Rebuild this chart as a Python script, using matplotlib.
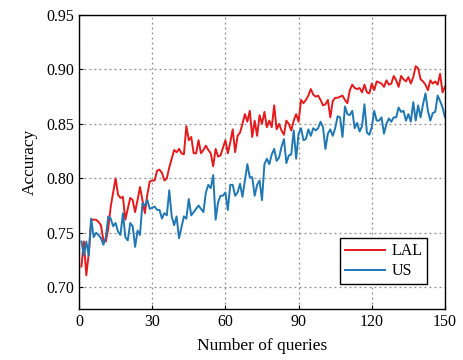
import numpy as np
import matplotlib
matplotlib.use("Agg")
import matplotlib.pyplot as plt

queries = np.arange(1, 151)

lal_acc = [
    0.719, 0.742, 0.711, 0.731, 0.762, 0.762, 0.762, 0.760, 0.757, 0.743,
    0.742, 0.754, 0.774, 0.787, 0.800, 0.785, 0.782, 0.783, 0.762, 0.772,
    0.782, 0.780, 0.769, 0.780, 0.792, 0.780, 0.768, 0.785, 0.797, 0.798,
    0.798, 0.807, 0.808, 0.805, 0.798, 0.800, 0.810, 0.818, 0.826, 0.824,
    0.827, 0.823, 0.822, 0.848, 0.835, 0.838, 0.823, 0.823, 0.835, 0.823,
    0.826, 0.830, 0.826, 0.823, 0.811, 0.827, 0.820, 0.821, 0.828, 0.835,
    0.823, 0.833, 0.845, 0.824, 0.839, 0.842, 0.850, 0.859, 0.852, 0.862,
    0.838, 0.853, 0.839, 0.858, 0.850, 0.861, 0.847, 0.853, 0.847, 0.867,
    0.845, 0.850, 0.844, 0.840, 0.853, 0.850, 0.844, 0.853, 0.859, 0.852,
    0.872, 0.869, 0.872, 0.876, 0.882, 0.877, 0.875, 0.876, 0.872, 0.867,
    0.868, 0.872, 0.856, 0.871, 0.874, 0.874, 0.875, 0.876, 0.872, 0.869,
    0.881, 0.886, 0.883, 0.882, 0.883, 0.879, 0.886, 0.879, 0.878, 0.887,
    0.881, 0.889, 0.888, 0.887, 0.884, 0.890, 0.886, 0.887, 0.894, 0.890,
    0.884, 0.894, 0.891, 0.889, 0.893, 0.887, 0.893, 0.903, 0.901, 0.891,
    0.889, 0.886, 0.881, 0.890, 0.887, 0.889, 0.886, 0.896, 0.879, 0.884,
]

us_acc = [
    0.742, 0.729, 0.742, 0.729, 0.763, 0.746, 0.750, 0.748, 0.745, 0.739,
    0.746, 0.765, 0.763, 0.756, 0.759, 0.751, 0.748, 0.768, 0.746, 0.743,
    0.759, 0.756, 0.737, 0.752, 0.748, 0.777, 0.775, 0.780, 0.772, 0.773,
    0.774, 0.771, 0.771, 0.763, 0.768, 0.766, 0.789, 0.765, 0.757, 0.765,
    0.745, 0.755, 0.765, 0.763, 0.781, 0.766, 0.769, 0.772, 0.775, 0.772,
    0.769, 0.787, 0.794, 0.791, 0.803, 0.762, 0.778, 0.784, 0.784, 0.787,
    0.771, 0.794, 0.794, 0.784, 0.787, 0.795, 0.783, 0.798, 0.813, 0.801,
    0.801, 0.784, 0.794, 0.798, 0.780, 0.813, 0.818, 0.813, 0.822, 0.827,
    0.816, 0.819, 0.829, 0.836, 0.814, 0.821, 0.822, 0.844, 0.818, 0.841,
    0.846, 0.835, 0.836, 0.845, 0.839, 0.846, 0.844, 0.846, 0.852, 0.847,
    0.827, 0.841, 0.845, 0.839, 0.846, 0.857, 0.856, 0.838, 0.866, 0.859,
    0.858, 0.862, 0.846, 0.851, 0.843, 0.848, 0.868, 0.842, 0.840, 0.847,
    0.862, 0.853, 0.853, 0.856, 0.841, 0.850, 0.855, 0.852, 0.856, 0.856,
    0.865, 0.861, 0.862, 0.853, 0.859, 0.852, 0.870, 0.853, 0.867, 0.856,
    0.868, 0.878, 0.862, 0.853, 0.860, 0.861, 0.876, 0.871, 0.865, 0.856,
]

x_ticks = [0, 30, 60, 90, 120, 150]
y_ticks = [0.70, 0.75, 0.80, 0.85, 0.90, 0.95]

plt.rcParams["font.family"] = ["Liberation Serif", "DejaVu Serif"]

fig = plt.figure(figsize=(4.63, 3.6), dpi=100)
ax = fig.add_axes([0.1706, 0.1417, 0.7905, 0.8166])

ax.plot(queries, lal_acc, color="#e41a1c", lw=1.4, label="LAL")
ax.plot(queries, us_acc, color="#1f77b4", lw=1.4, label="US")

ax.set_xlim(0, 150)
ax.set_ylim(0.68, 0.95)
ax.set_xticks(x_ticks)
ax.set_yticks(y_ticks)
ax.set_yticklabels([f"{v:.2f}" for v in y_ticks])
ax.tick_params(direction="in", length=3, labelsize=11.5, width=0.8)
ax.grid(True, color="#8c8c8c", linestyle=(0, (1.5, 2.5)), lw=0.9)

for s in ax.spines.values():
    s.set_linewidth(1.0)

ax.set_xlabel("Number of queries", fontsize=12.5, labelpad=6)
ax.set_ylabel("Accuracy", fontsize=12.5, labelpad=6)

leg = ax.legend(loc="lower right", bbox_to_anchor=(0.951, 0.085),
                borderaxespad=0, fancybox=False, framealpha=1,
                edgecolor="black", fontsize=11.5, handlelength=2.5,
                handletextpad=0.4, labelspacing=0.25, borderpad=0.3)
leg.get_frame().set_linewidth(1.0)

fig.savefig("out.png", dpi=100)
